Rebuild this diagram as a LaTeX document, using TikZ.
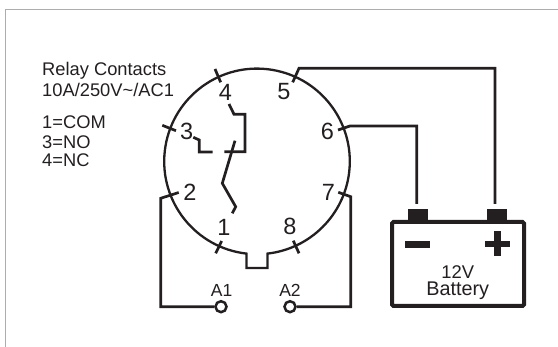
\documentclass[tikz,border=0pt]{standalone}
\usepackage{fontspec}
\setmainfont{Liberation Sans}
\definecolor{ink}{HTML}{231F20}
\tikzset{
  lbl/.style={inner sep=0pt,text=ink,font=\fontsize{18.3}{18}\selectfont,anchor=base west},
  pin/.style={inner sep=0pt,text=ink,font=\fontsize{23.5}{23}\selectfont},
  wire/.style={draw=ink,line width=2.7pt,line join=miter},
  thinline/.style={draw=ink,line width=2.3pt},
  coil/.style={circle,draw=ink,line width=2.5pt,fill=white,minimum size=11pt,inner sep=0pt},
  solid block/.style={fill=ink,draw=none}
}
\begin{document}
\begin{tikzpicture}[x=1pt,y=-1pt]
\useasboundingbox (0,0) rectangle (558,347);
\draw[draw=black!32,line width=1pt] (558,10) -- (5,10) -- (5,347);
% body
\draw[thinline] (246.5,253.6) arc[start angle=263.5,end angle=-83.5,radius=92.8pt]
  -- (267.5,268) -- (246.5,268) -- cycle;
\fill[white] (247.7,253) rectangle (266.3,256);
% text
\node[lbl] (t1) at (42,76) {Relay Contacts};
\node[lbl] (t2) at (42,96.7) {10A/250V\char"7E/AC1};
\node[lbl] (t3) at (42,129) {1=COM};
\node[lbl] (t4) at (42,148.3) {3=NO};
\node[lbl] (t5) at (42,166.7) {4=NC};
% pins
\node[pin] (p1) at (224,227.3) {1};
\node[pin] (p2) at (190,192.7) {2};
\node[pin] (p3) at (186.7,131.7) {3};
\node[pin] (p4) at (225.3,92.7) {4};
\node[pin] (p5) at (284,91.7) {5};
\node[pin] (p6) at (327.3,131.7) {6};
\node[pin] (p7) at (328.3,192.7) {7};
\node[pin] (p8) at (290,226.7) {8};
% ticks
\draw[wire] (215,69) -- (220.7,82.3);
\draw[wire] (162.3,125.3) -- (176,130.7);
\draw[wire] (215.7,253.3) -- (221.7,241);
\draw[wire] (293.3,240.7) -- (299,253.3);
% contacts
\draw[wire] (193.3,137.3) -- (199.3,140) -- (199.3,152) -- (212.7,152);
\draw[wire] (229,104) -- (234,114.3) -- (245,114.3) -- (245,151.7) -- (224.3,151.7);
\draw[wire] (235,140.7) -- (222.3,183.3) -- (235.7,206.7) -- (232.3,213.3);
% battery
\draw[draw=ink,line width=4pt,rounded corners=1.5pt] (392,222) rectangle (524,306);
\node[solid block,minimum width=20.5pt,minimum height=12pt,inner sep=0pt] (tm) at (418,215.5) {};
\node[solid block,minimum width=20.5pt,minimum height=12pt,inner sep=0pt] (tp) at (497,215.5) {};
\fill[ink] (405,240.7) rectangle (430,248);
\fill[ink] (485,241) rectangle (510,247.3);
\fill[ink] (494.3,231) rectangle (500.7,256);
\node[inner sep=0pt,text=ink,anchor=base,font=\fontsize{18.4}{18}\selectfont] (v) at (457.7,278.3) {12V};
\node[inner sep=0pt,text=ink,anchor=base,font=\fontsize{19.8}{18}\selectfont] (b) at (457.7,295.7) {Battery};
% coil terminals
\node[coil] (a1) at (221,306.7) {};
\node[coil] (a2) at (290,306.7) {};
\node[inner sep=0pt,text=ink,anchor=base,font=\fontsize{17.5}{17}\selectfont] (la1) at (221.7,296.7) {A1};
\node[inner sep=0pt,text=ink,anchor=base,font=\fontsize{17.5}{17}\selectfont] (la2) at (290,296.7) {A2};
% wires
\coordinate (w5) at (292.7,82.3);
\coordinate (w6) at (338,130);
\coordinate (w2) at (178.7,192.5);
\coordinate (w7) at (338.3,192.3);
\coordinate (e5) at (495,204);
\coordinate (e6) at (416.7,204);
\draw[wire] (w5) -- (299,68.3) -- (495,68.3) -- (e5);
\draw[wire] (w6) -- (350,126) -- (416.7,126) -- (e6);
\draw[wire] (w2) -- (160.7,198.3) -- (160.7,306.7) -- (a1);
\draw[wire] (w7) -- (350.7,196.7) -- (350.7,306.7) -- (a2);
\end{tikzpicture}
\end{document}
